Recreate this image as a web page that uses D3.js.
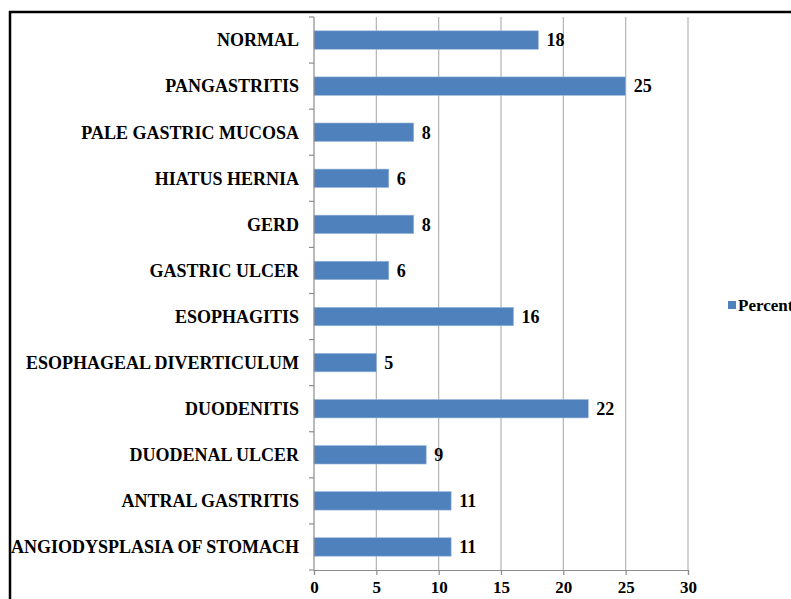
<!DOCTYPE html>
<html>
<head>
<meta charset="utf-8">
<script src="https://cdn.jsdelivr.net/npm/d3@7"></script>
<style>
  body { margin: 0; background: #fff; overflow: hidden; }
  svg { display: block; }
  text { font-family: "Liberation Serif", "Times New Roman", serif; font-weight: bold; fill: #000; }
</style>
</head>
<body>
<script>
const w = 791;
const h = 599;

// categories top to bottom, values in percent
const categories = ["NORMAL", "PANGASTRITIS", "PALE GASTRIC MUCOSA", "HIATUS HERNIA", "GERD",
  "GASTRIC ULCER", "ESOPHAGITIS", "ESOPHAGEAL DIVERTICULUM", "DUODENITIS", "DUODENAL ULCER",
  "ANTRAL GASTRITIS", "ANGIODYSPLASIA OF STOMACH"];
const percent = [18, 25, 8, 6, 8, 6, 16, 5, 22, 9, 11, 11];
const xTicks = [0, 5, 10, 15, 20, 25, 30];
const seriesName = "Percentage";

const dataset = categories.map((c, i) => ({ name: c, value: percent[i] }));

let svg = d3.select("body")
  .append("svg")
  .attr("width", w)
  .attr("height", h);

// outer chart border (runs off the right and bottom edges)
svg.append("rect")
  .attr("x", 10)
  .attr("y", 12)
  .attr("width", w + 20)
  .attr("height", h + 20)
  .attr("fill", "none")
  .attr("stroke", "#000")
  .attr("stroke-width", 2.5);

const x = d3.scaleLinear().domain([0, 30]).range([314, 688]);
const y = d3.scaleBand().domain(categories).range([17, 570]).paddingInner(0.6).paddingOuter(0.3);

// vertical gridlines
svg.append("g")
  .selectAll("line")
  .data(xTicks.slice(1))
  .enter()
  .append("line")
  .attr("x1", d => x(d))
  .attr("x2", d => x(d))
  .attr("y1", 17)
  .attr("y2", 570)
  .attr("stroke", "#b3b3b3")
  .attr("stroke-width", 1.2);

// bars
svg.append("g")
  .selectAll("rect")
  .data(dataset)
  .enter()
  .append("rect")
  .attr("x", x(0))
  .attr("y", d => y(d.name))
  .attr("width", d => x(d.value) - x(0))
  .attr("height", y.bandwidth())
  .attr("fill", "#4f81bd")
  .attr("stroke", "#9bb8dc")
  .attr("stroke-width", 0.6);

// value labels
svg.append("g")
  .selectAll("text")
  .data(dataset)
  .enter()
  .append("text")
  .attr("x", d => x(d.value) + 8)
  .attr("y", d => y(d.name) + y.bandwidth() / 2)
  .attr("dy", "0.35em")
  .attr("font-size", 18)
  .text(d => d.value);

// y axis: line + ticks between categories
const yAxis = svg.append("g");
yAxis.append("line")
  .attr("x1", x(0)).attr("x2", x(0))
  .attr("y1", 17).attr("y2", 570)
  .attr("stroke", "#8c8c8c").attr("stroke-width", 1.2);
yAxis.selectAll("line.tick")
  .data(d3.range(categories.length + 1))
  .enter()
  .append("line")
  .attr("class", "tick")
  .attr("x1", x(0) - 5).attr("x2", x(0))
  .attr("y1", i => 17 + i * (553 / categories.length))
  .attr("y2", i => 17 + i * (553 / categories.length))
  .attr("stroke", "#8c8c8c").attr("stroke-width", 1.2);
yAxis.selectAll("text")
  .data(dataset)
  .enter()
  .append("text")
  .attr("x", 299)
  .attr("y", d => y(d.name) + y.bandwidth() / 2)
  .attr("dy", "0.35em")
  .attr("text-anchor", "end")
  .attr("font-size", 18)
  .text(d => d.name);

// x axis
const xAxis = svg.append("g")
  .attr("transform", "translate(0,570)")
  .call(d3.axisBottom(x).tickValues(xTicks).tickSize(5).tickPadding(10));
xAxis.select(".domain").attr("stroke", "#8c8c8c").attr("stroke-width", 1.2);
xAxis.selectAll(".tick line").attr("stroke", "#8c8c8c").attr("stroke-width", 1.2);
xAxis.selectAll(".tick text")
  .attr("y", 23)
  .attr("dy", null)
  .attr("font-size", 17)
  .attr("font-family", "Liberation Serif, Times New Roman, serif")
  .attr("font-weight", "bold")
  .attr("fill", "#000");

// legend
const legend = svg.append("g").attr("transform", "translate(728,301)");
legend.append("rect")
  .attr("width", 8).attr("height", 8)
  .attr("fill", "#4f81bd");
legend.append("text")
  .attr("x", 10).attr("y", 4)
  .attr("dy", "0.35em")
  .attr("font-size", 17)
  .text(seriesName);
</script>
</body>
</html>
